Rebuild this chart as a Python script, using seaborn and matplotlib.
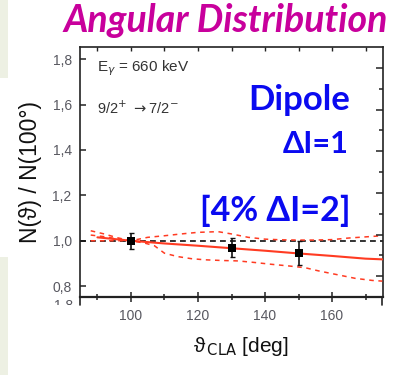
import matplotlib
matplotlib.use("Agg")
import matplotlib.pyplot as plt
from matplotlib.patches import Rectangle
from matplotlib.lines import Line2D
from matplotlib.ticker import FixedLocator, NullFormatter
import seaborn as sns

# measured intensity ratios N(theta)/N(100 deg)
theta_meas = [100, 130, 150]
ratio_meas = [1.000, 0.970, 0.945]
ratio_err = [0.035, 0.042, 0.054]

# best fit (pure dipole)
theta_fit = [90, 100, 110, 120, 130, 140, 150, 160, 170, 175]
ratio_fit = [1.015, 1.000, 0.988, 0.978, 0.967, 0.956, 0.944, 0.933, 0.921, 0.918]

# limiting curves
theta_up = [88, 92, 96, 100, 105, 110, 115, 120, 126, 130, 135, 140, 145, 150, 155, 160, 165, 170, 175]
ratio_up = [1.000, 1.000, 1.000, 1.000, 1.015, 1.022, 1.030, 1.037, 1.040, 1.030, 1.015, 1.007,
            1.004, 1.003, 1.003, 1.005, 1.012, 1.017, 1.022]
theta_lo = [88, 92, 96, 100, 104, 107, 110, 114, 118, 122, 127, 132, 137, 142, 147, 152, 156, 161, 167, 172, 175]
ratio_lo = [1.025, 1.018, 1.008, 1.000, 0.990, 0.978, 0.945, 0.930, 0.921, 0.916, 0.913, 0.911,
            0.904, 0.896, 0.889, 0.881, 0.867, 0.852, 0.834, 0.825, 0.822]
theta_ql = [88, 92, 96, 100]
ratio_ql = [1.044, 1.030, 1.013, 1.000]

x_major = [100, 120, 140, 160]
x_minor = [90, 110, 130, 150, 170]
x_top = [90, 100, 110, 120, 130, 140, 150, 160, 170]
y_ticks = [0.8, 1.0, 1.2, 1.4, 1.6, 1.8]
y_ticklabels = ["0,8", "1,0", "1,2", "1,4", "1,6", "1,8"]

sns.set_theme(style="ticks")
plt.rcParams["font.family"] = ["Liberation Sans", "DejaVu Sans"]

W, H = 395, 375
fig = plt.figure(figsize=(W / 100, H / 100), dpi=100)
fig.patch.set_facecolor("white")


def fx(px):
    return px / W


def fy(py):
    return 1 - py / H


# pale strip along the left edge
fig.patches.append(Rectangle((0, 0), fx(8), 1, transform=fig.transFigure,
                             facecolor="#edf0e3", edgecolor="none", zorder=0))
fig.patches.append(Rectangle((0, fy(257)), fx(9), (257 - 78) / H, transform=fig.transFigure,
                             facecolor="white", edgecolor="none", zorder=1))

ax = fig.add_axes([fx(80), fy(297), fx(383) - fx(80), fy(47) - fy(297)])
ax.set_facecolor("white")
ax.set_xlim(84.8, 175.2)
ax.set_ylim(0.752, 1.854)

red = "#ff3b22"
ax.axhline(1.0, color="#111111", lw=1.2, ls=(0, (3.5, 2.5)), zorder=2)

sns.lineplot(x=theta_up, y=ratio_up, ax=ax, color=red, lw=1.1, ls=(0, (3, 3)), sort=False, zorder=3)
sns.lineplot(x=theta_lo, y=ratio_lo, ax=ax, color=red, lw=1.1, ls=(0, (3, 3)), sort=False, zorder=3)
sns.lineplot(x=theta_ql, y=ratio_ql, ax=ax, color=red, lw=1.1, ls=(0, (3, 3)), sort=False, zorder=3)
sns.lineplot(x=theta_fit, y=ratio_fit, ax=ax, color=red, lw=1.5, sort=False, zorder=4)

ax.errorbar(theta_meas, ratio_meas, yerr=ratio_err, fmt="none", ecolor="#111111",
            elinewidth=1.2, capsize=1.8, capthick=1.0, zorder=5)
sns.scatterplot(x=theta_meas, y=ratio_meas, ax=ax, marker="s", s=30, color="black",
                edgecolor="black", linewidth=0, zorder=6)

for sp in ax.spines.values():
    sp.set_color("#222222")
    sp.set_linewidth(1.2)
ax.spines["bottom"].set_linewidth(1.6)

ax.xaxis.set_major_locator(FixedLocator(x_major))
ax.xaxis.set_minor_locator(FixedLocator(x_minor))
ax.set_yticks(y_ticks)
ax.set_yticklabels(y_ticklabels)
ax.tick_params(axis="x", which="major", direction="inout", length=7, width=1.1,
               color="#222222", labelsize=10, labelcolor="#585860", pad=5, top=False)
ax.tick_params(axis="x", which="minor", direction="inout", length=4, width=1.1,
               color="#222222", top=False)
ax.tick_params(axis="y", which="major", direction="in", length=4, width=1.1,
               color="#222222", labelsize=10, labelcolor="#585860", pad=6, right=False)

# inward ticks along the top edge
top = ax.secondary_xaxis("top")
top.xaxis.set_major_locator(FixedLocator(x_top))
top.xaxis.set_major_formatter(NullFormatter())
top.tick_params(direction="in", length=3, width=1.0, color="#222222")
top.spines["top"].set_visible(False)

# right edge carries its own tick scale
rt = ax.twinx()
rt.set_ylim(0, 12)
rt.yaxis.set_major_locator(FixedLocator([1, 3, 5, 7, 9, 11]))
rt.yaxis.set_minor_locator(FixedLocator([2, 4, 6, 8, 10]))
rt.yaxis.set_major_formatter(NullFormatter())
rt.tick_params(axis="y", which="major", direction="in", length=5, width=1.1, color="#222222")
rt.tick_params(axis="y", which="minor", direction="in", length=3, width=1.1, color="#222222")
for sp in rt.spines.values():
    sp.set_visible(False)
rt.grid(False)

ax.set_xlabel("")
ax.set_ylabel("")
fig.text(fx(241), fy(346), r"ϑ$_{\,\mathrm{CLA}}$ [deg]", ha="center", va="center",
         fontsize=15, color="#111111")
fig.text(fx(30), fy(172), "N(ϑ) / N(100°)", rotation=90, ha="center", va="center",
         fontsize=16.5, color="#111111")

fig.text(fx(97), fy(68), r"E$_\gamma$ = 660 keV", ha="left", va="center",
         fontsize=11, color="#333333")
fig.text(fx(97), fy(108), r"9/2$^{+}$ $\rightarrow$7/2$^{-}$", ha="left", va="center",
         fontsize=10.5, color="#333333")

blue = "#0a0af0"
fig.text(fx(350), fy(100), "Dipole", ha="right", va="center", fontsize=25,
         fontweight="bold", color=blue, family="Lato")
fig.text(fx(349), fy(144), "ΔI=1", ha="right", va="center", fontsize=22,
         fontweight="bold", color=blue, family="Lato")
fig.text(fx(350), fy(211), "[4% ΔI=2]", ha="right", va="center", fontsize=24.5,
         fontweight="bold", color=blue, family="Lato")

fig.text(fx(226), fy(21), "Angular Distribution", ha="center", va="center", fontsize=27,
         fontweight="bold", style="italic", color="#c8009c", family="Lato")

# stubs of the frame below
fig.lines.append(Line2D([fx(80), fx(80)], [fy(297), fy(305)], transform=fig.transFigure,
                        color="#222222", lw=1.2))
fig.lines.append(Line2D([fx(382), fx(382)], [fy(297), fy(305)], transform=fig.transFigure,
                        color="#222222", lw=1.2))
fig.text(fx(73), fy(299), "1,8", ha="right", va="top", fontsize=10, color="#585860")
fig.patches.append(Rectangle((fx(20), 0), fx(58), fy(305), transform=fig.transFigure,
                             facecolor="white", edgecolor="none", zorder=5))

fig.savefig("out.png", dpi=100)
